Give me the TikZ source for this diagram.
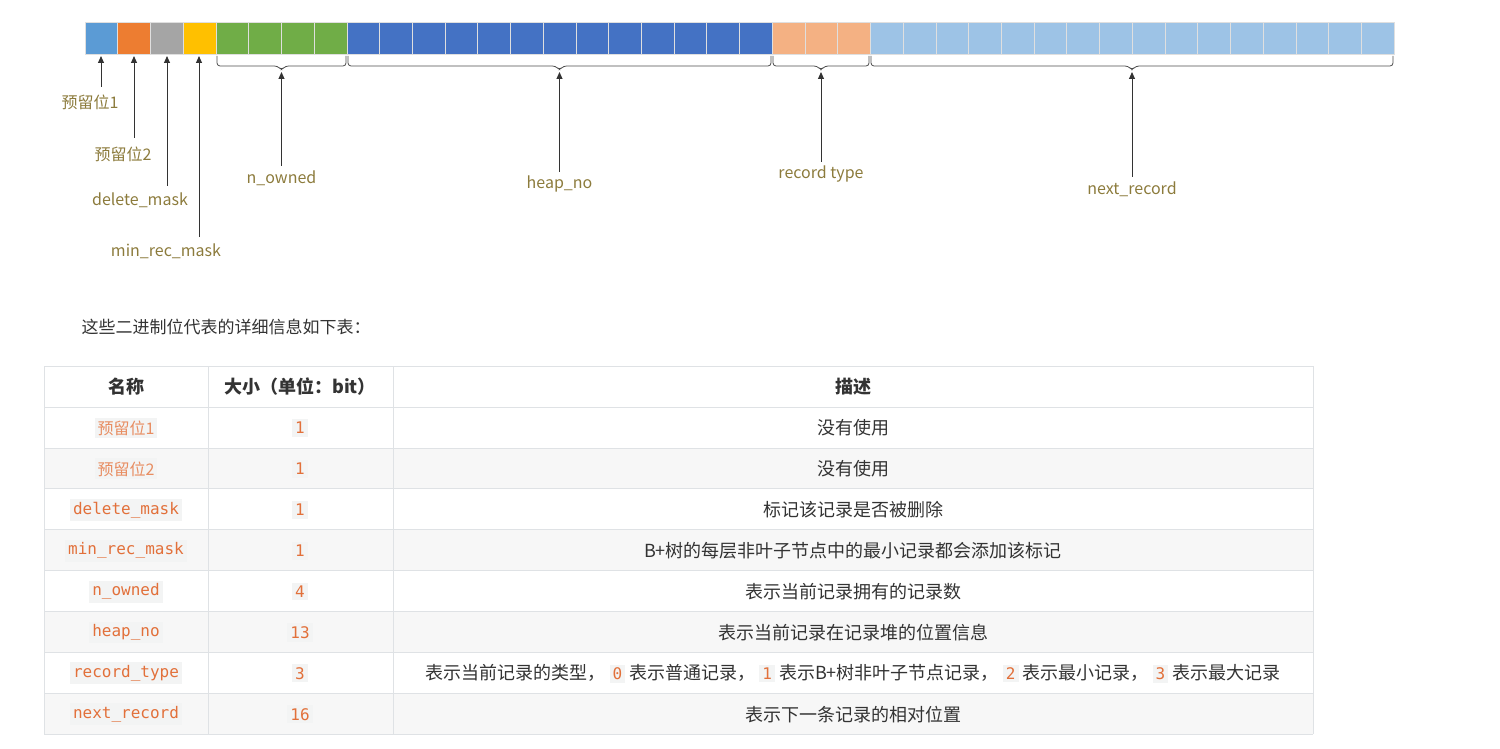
\documentclass[tikz,border=0pt]{standalone}
\usepackage{fontspec}
\setmainfont{Noto Sans CJK SC}
\newfontfamily\monofont{DejaVu Sans Mono}
\usetikzlibrary{arrows.meta}
\definecolor{cBlueA}{HTML}{5B9BD5}
\definecolor{cOrange}{HTML}{ED7D31}
\definecolor{cGray}{HTML}{A5A5A5}
\definecolor{cYellow}{HTML}{FFC000}
\definecolor{cGreen}{HTML}{70AD47}
\definecolor{cBlueB}{HTML}{4472C4}
\definecolor{cPeach}{HTML}{F4B183}
\definecolor{cBlueC}{HTML}{9DC3E6}
\definecolor{labelcol}{HTML}{8C7B3C}
\definecolor{codecol}{HTML}{E2703A}
\definecolor{codebg}{HTML}{F3F4F4}
\definecolor{rulecol}{HTML}{DFE2E5}
\definecolor{textcol}{HTML}{333333}
\newcommand{\codebox}[1]{\tikz[baseline=(c.base)]\node[fill=codebg,text=codecol,inner sep=3pt,font=\monofont\fontsize{16}{18}\selectfont](c){#1};}
\newcommand{\cjkbox}[1]{\tikz[baseline=(c.base)]\node[fill=codebg,text=codecol!80,inner sep=3pt,font=\fontsize{16}{18}\selectfont](c){#1};}

\begin{document}
\begin{tikzpicture}[x=1pt,y=-1pt,
  bit/.style={draw=white!75!gray,line width=0.6pt},
  bitlabel/.style={text=labelcol,font=\fontsize{16}{18}\selectfont},
  pointer/.style={-{Triangle[length=7pt,width=6pt]},line width=1pt,black!80},
  brace/.style={line width=0.8pt,black!70,rounded corners=3pt},
  cell/.style={text=textcol,font=\fontsize{18}{21}\selectfont},
  head/.style={text=textcol,font=\bfseries\fontsize{18}{21}\selectfont}]
\useasboundingbox (0,0) rectangle (1500,749);

% bit bar
\def\w{32.725}
\foreach \i/\c in {0/cBlueA,1/cOrange,2/cGray,3/cYellow,4/cGreen,5/cGreen,6/cGreen,7/cGreen}
  \fill[\c] (85+\i*\w,22) rectangle ++(\w,32);
\foreach \i in {8,...,20}
  \fill[cBlueB] (85+\i*\w,22) rectangle ++(\w,32);
\foreach \i in {21,22,23}
  \fill[cPeach] (85+\i*\w,22) rectangle ++(\w,32);
\foreach \i in {24,...,39}
  \fill[cBlueC] (85+\i*\w,22) rectangle ++(\w,32);
\foreach \i in {0,...,39}
  \draw[bit] (85+\i*\w,22) rectangle ++(\w,32);

% single bits
\node[bitlabel] (res1) at (90,102) {预留位1};
\node[bitlabel] (res2) at (123,154) {预留位2};
\node[bitlabel] (delmask) at (140,200) {delete\_mask};
\node[bitlabel] (minrec) at (166,251) {min\_rec\_mask};
\coordinate (p1) at (101,56);
\coordinate (p2) at (134,56);
\coordinate (p3) at (167,56);
\coordinate (p4) at (199,56);
\draw[pointer] (101,87) -- (p1);
\draw[pointer] (134,138) -- (p2);
\draw[pointer] (167,186) -- (p3);
\draw[pointer] (199,237) -- (p4);

% grouped bits
\foreach \a/\b/\n/\t/\y/\ly in {216/347/nowned/n\_owned/166/178,
    347/772/heapno/heap\_no/172/184,
    772/870/rectype/record type/162/174,
    870/1394/nextrec/next\_record/177/189}{
  \draw[brace] (\a+1,56) -- (\a+1,66) -- ({(\a+\b)/2-4},66) -- ({(\a+\b)/2},70)
    -- ({(\a+\b)/2+4},66) -- (\b-1,66) -- (\b-1,56);
  \coordinate (\n) at ({(\a+\b)/2},72);
  \node[bitlabel] (\n l) at ({(\a+\b)/2},\ly) {\t};
  \draw[pointer] ({(\a+\b)/2},\y) -- (\n);
}

% caption
\node[anchor=west,text=textcol,font=\fontsize{17}{20}\selectfont] (intro) at (78,327) {这些二进制位代表的详细信息如下表：};

% table
\fill[black!3] (44,448) rectangle (1313,488);
\fill[black!3] (44,529) rectangle (1313,570);
\fill[black!3] (44,611) rectangle (1313,652);
\fill[black!3] (44,693) rectangle (1313,734);
\foreach \y in {366,407,448,488,529,570,611,652,693,734}
  \draw[rulecol,line width=1pt] (44,\y) -- (1313,\y);
\foreach \x in {44,208,393,1313}
  \draw[rulecol,line width=1pt] (\x,366) -- (\x,734);
\node[head] (hname) at (126,387) {名称};
\node[head] (hsize) at (300,387) {大小（单位：bit）};
\node[head] (hdesc) at (853,387) {描述};
\foreach \k/\nm/\sz/\ds in {0/{\cjkbox{预留位1}}/1/没有使用,
    1/{\cjkbox{预留位2}}/1/没有使用,
    2/{\codebox{delete\_mask}}/1/标记该记录是否被删除,
    3/{\codebox{min\_rec\_mask}}/1/B+树的每层非叶子节点中的最小记录都会添加该标记,
    4/{\codebox{n\_owned}}/4/表示当前记录拥有的记录数,
    5/{\codebox{heap\_no}}/13/表示当前记录在记录堆的位置信息,
    6/{\codebox{record\_type}}/3/{表示当前记录的类型， \codebox{0} 表示普通记录， \codebox{1} 表示B+树非叶子节点记录， \codebox{2} 表示最小记录， \codebox{3} 表示最大记录},
    7/{\codebox{next\_record}}/16/表示下一条记录的相对位置}{
  \node[cell] (name\k) at (126,428+\k*40.9) {\nm};
  \node[cell] (size\k) at (300,428+\k*40.9) {\codebox{\sz}};
  \node[cell] (desc\k) at (853,428+\k*40.9) {\ds};
}
\end{tikzpicture}
\end{document}
